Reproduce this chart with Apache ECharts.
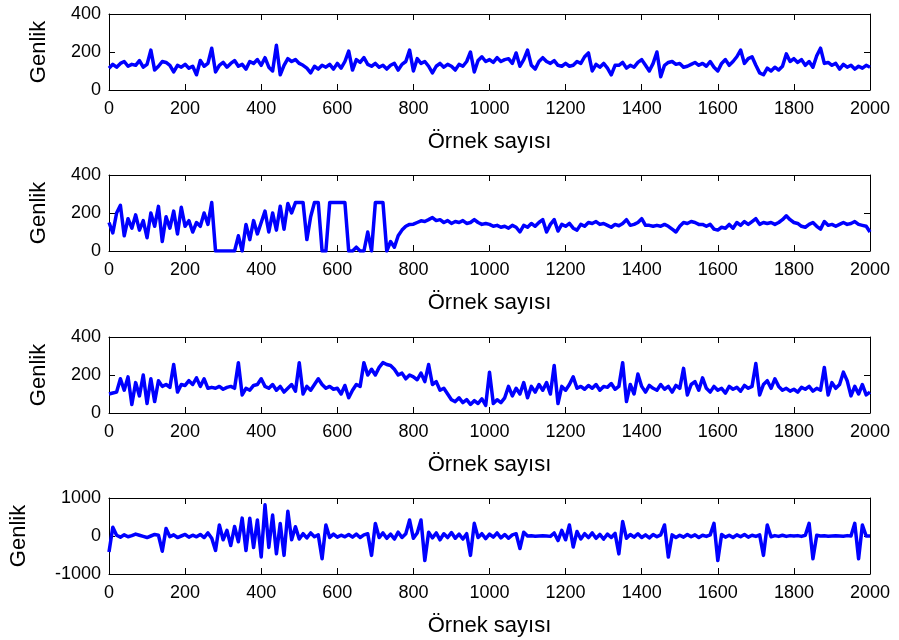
<!DOCTYPE html>
<html>
<head>
<meta charset="utf-8">
<script src="https://cdn.jsdelivr.net/npm/echarts@6/dist/echarts.min.js"></script>
<style>html,body{margin:0;padding:0;background:#fff}#c{width:899px;height:640px}</style>
</head>
<body>
<div id="c"></div>
<script>
// sample index step between the read-off points
const sampleStep = 10;
const xTicks = [0,200,400,600,800,1000,1200,1400,1600,1800,2000];
const xLabel = "Örnek sayısı";
const yLabel = "Genlik";

const signal1 = [
115,135,120,140,150,125,135,130,155,120,135,210,105,125,150,145,130,95,130,120,
135,115,125,80,155,125,140,220,95,130,145,120,140,155,125,135,110,150,140,160,
130,170,120,100,235,80,130,165,150,160,140,130,115,90,125,110,130,120,135,110,
140,115,150,205,105,160,145,170,135,125,140,120,130,110,130,140,105,135,150,210,
100,165,140,150,125,90,125,140,120,135,125,105,135,125,150,200,95,155,175,150,
160,145,170,150,160,165,140,195,125,160,210,130,110,150,170,150,140,155,130,125,
140,125,130,150,140,175,195,100,135,120,140,115,80,130,130,145,115,130,120,145,
160,130,100,140,200,70,130,145,150,135,140,120,125,135,145,130,140,125,150,120,
100,140,160,130,150,175,210,140,165,175,130,90,80,115,100,120,105,125,190,150,
165,145,160,130,150,120,180,220,140,145,130,140,110,135,120,130,110,125,115,130,
120];

const signal2 = [
150,95,200,240,80,170,120,190,110,160,70,200,130,235,50,180,120,210,90,230,
130,160,100,150,130,200,140,255,0,0,0,0,0,0,80,0,140,60,160,90,
150,210,100,200,110,236,115,250,200,255,255,255,60,180,255,255,0,0,255,255,
255,255,255,0,0,20,0,0,100,0,255,255,255,0,50,20,80,110,130,140,
141,150,159,155,165,176,160,165,150,160,145,155,150,160,145,150,165,150,140,145,
140,130,135,125,130,120,135,125,100,135,125,145,130,150,165,100,140,165,105,140,
130,145,120,110,140,130,150,145,155,140,145,135,125,140,133,145,165,135,140,150,
170,135,135,130,135,130,140,130,115,100,130,150,145,155,150,140,140,130,140,115,
110,125,120,140,120,150,135,155,140,155,170,140,150,145,150,140,150,165,185,165,
150,145,130,125,140,150,130,115,155,135,140,130,140,150,140,145,155,140,135,130,
100];

const signal3 = [
100,105,110,180,120,190,45,160,90,200,50,180,60,170,140,150,135,255,110,150,
145,170,150,185,140,180,130,135,130,140,125,135,140,130,265,95,130,120,145,150,
180,140,130,150,120,140,110,130,150,115,265,100,140,120,150,180,150,130,140,125,
130,100,145,80,120,150,140,265,200,230,200,240,265,255,250,230,200,210,180,200,
190,175,210,165,255,150,165,120,130,100,70,60,80,55,70,45,65,50,75,40,
215,50,70,55,80,140,90,130,100,160,80,140,110,150,120,160,100,250,50,140,
120,150,190,130,140,125,145,130,150,120,140,135,155,125,140,265,60,150,100,205,
140,110,145,130,120,150,125,140,110,145,130,235,95,150,165,120,185,130,110,140,
120,130,105,140,125,135,115,145,130,140,260,95,150,170,130,180,140,120,130,115,
125,110,135,125,140,115,130,120,240,95,160,130,150,215,170,90,140,100,150,95,
110];

const signal4 = [
-420,230,20,-30,30,-20,10,50,20,-10,-40,0,40,20,-400,200,-20,30,-40,0,
40,-30,20,-20,40,-40,80,-60,-380,290,-100,150,-250,250,-150,470,-380,470,-300,420,
-550,820,-300,550,-470,330,-510,650,-100,245,-80,60,-50,80,-20,30,-600,290,-40,50,
-30,20,-20,40,-30,50,-40,30,60,-510,330,-40,80,-60,50,-80,100,-40,60,420,
-60,80,420,-645,100,-50,80,-100,60,-40,90,-60,50,-80,60,-510,333,-40,60,-70,
50,-30,80,-50,40,-60,30,60,-330,100,0,5,-5,0,5,0,-10,80,-120,150,
-100,290,-290,120,-80,60,-40,80,-60,40,-80,50,-40,70,-470,380,-60,40,-30,60,
-40,30,-50,40,-20,30,290,-555,30,-40,20,-30,40,-20,30,-40,20,-10,30,333,
-645,40,-30,20,-40,30,-20,40,-30,20,-10,30,-510,290,-20,10,-10,20,-10,10,
0,10,-10,20,333,-600,20,0,5,-5,0,5,0,-5,10,0,333,-600,290,0,
0];

const signals = [signal1, signal2, signal3, signal4];
const yRanges = [[0,400,200],[0,400,200],[0,400,200],[-1000,1000,1000]];
const gridTops = [14, 175, 337, 498];
const yNameGaps = [59, 59, 59, 79];

const FONT = 'Liberation Sans, Arial, sans-serif';
const chart = echarts.init(document.getElementById('c'), null, {renderer: 'canvas'});
const plain = v => String(v);

const grids = [], xAxes = [], yAxes = [], series = [];
signals.forEach((sig, k) => {
  grids.push({left: 109, right: 29, top: gridTops[k], height: 76, containLabel: false});
  const common = {
    type: 'value', gridIndex: k, min: 0, max: 2000, interval: 200,
    axisLine: {show: true, onZero: false, lineStyle: {color: '#000', width: 1}},
    axisTick: {show: true, inside: true, length: 6, lineStyle: {color: '#000'}},
    splitLine: {show: false}
  };
  xAxes.push(Object.assign({}, common, {
    position: 'bottom',
    axisLabel: {show: true, color: '#000', fontFamily: FONT, fontSize: 18, margin: 10, formatter: plain},
    name: xLabel, nameLocation: 'middle', nameGap: 41,
    nameTextStyle: {color: '#000', fontFamily: FONT, fontSize: 22}
  }));
  xAxes.push(Object.assign({}, common, {position: 'top', axisLabel: {show: false}}));
  const [ymin, ymax, yint] = yRanges[k];
  const ycommon = {
    type: 'value', gridIndex: k, min: ymin, max: ymax, interval: yint,
    axisLine: {show: true, onZero: false, lineStyle: {color: '#000', width: 1}},
    axisTick: {show: true, inside: true, length: 6, lineStyle: {color: '#000'}},
    splitLine: {show: false}
  };
  yAxes.push(Object.assign({}, ycommon, {
    position: 'left',
    axisLabel: {show: true, color: '#000', fontFamily: FONT, fontSize: 18, margin: 8, formatter: plain},
    name: yLabel, nameLocation: 'middle', nameGap: yNameGaps[k],
    nameTextStyle: {color: '#000', fontFamily: FONT, fontSize: 22}
  }));
  yAxes.push(Object.assign({}, ycommon, {position: 'right', axisLabel: {show: false}}));
  series.push({
    type: 'line', xAxisIndex: 2*k, yAxisIndex: 2*k,
    data: sig.map((v, i) => [i * sampleStep, v]),
    showSymbol: false, symbol: 'none',
    lineStyle: {color: '#0000ff', width: 3.5, join: 'round'},
    clip: true, animation: false
  });
});

chart.setOption({
  backgroundColor: '#fff',
  animation: false,
  grid: grids, xAxis: xAxes, yAxis: yAxes, series: series
});
</script>
</body>
</html>
